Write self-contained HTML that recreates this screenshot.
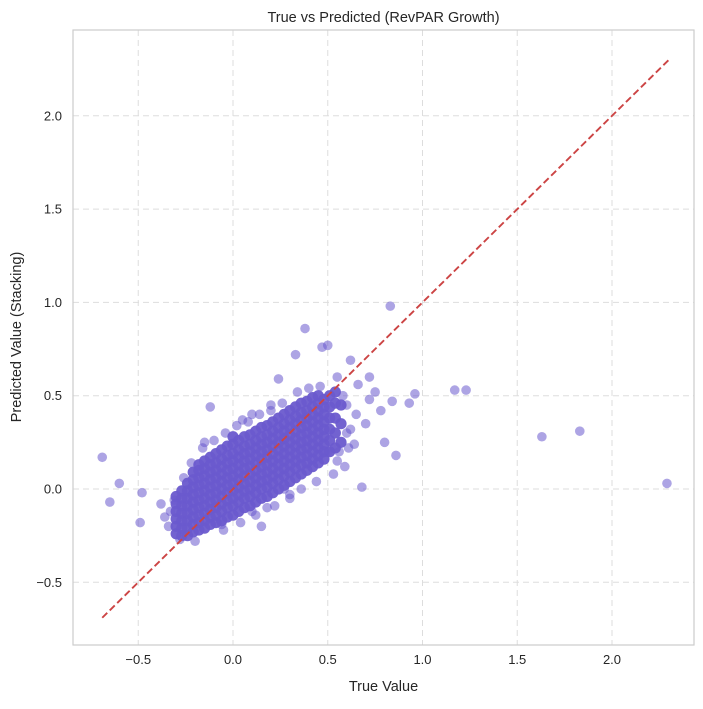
<!DOCTYPE html>
<html><head><meta charset="utf-8"><style>
body{margin:0;background:#fff;}
svg text{font-family:"Liberation Sans",sans-serif;fill:#262626;}
</style></head><body>
<svg id="chart" width="703" height="704">
<rect x="0" y="0" width="703" height="704" fill="#fff"/>
<g id="grid"></g>
<g id="pts"></g>
<g id="ref"></g>
<rect x="73" y="30" width="621" height="615" fill="none" stroke="#cccccc" stroke-width="1.2"/>
<g id="ticks"></g>
<text x="383.5" y="22" text-anchor="middle" font-size="14.5">True vs Predicted (RevPAR Growth)</text>
<text x="383.5" y="691" text-anchor="middle" font-size="14.5">True Value</text>
<text transform="translate(21,337) rotate(-90)" text-anchor="middle" font-size="14.5">Predicted Value (Stacking)</text>
</svg>
<script>
const xTicks=[-0.5,0,0.5,1,1.5,2];
const yTicks=[-0.5,0,0.5,1,1.5,2];
const colX=[-0.30,-0.27,-0.24,-0.21,-0.18,-0.15,-0.12,-0.09,-0.06,-0.03,0.00,0.03,0.06,0.09,0.12,0.15,0.18,0.21,0.24,0.27,0.30,0.33,0.36,0.39,0.42,0.45,0.48,0.51,0.54,0.57];
const colY=[
[-0.24,-0.20,-0.16,-0.12,-0.08,-0.04],
[-0.25,-0.21,-0.17,-0.13,-0.09,-0.05,-0.01],
[-0.25,-0.21,-0.17,-0.13,-0.09,-0.05,-0.01,0.03],
[-0.23,-0.19,-0.15,-0.11,-0.07,-0.03,0.01,0.05,0.09],
[-0.22,-0.18,-0.14,-0.10,-0.06,-0.02,0.02,0.06,0.10,0.13],
[-0.21,-0.17,-0.13,-0.09,-0.05,-0.01,0.03,0.07,0.11,0.15],
[-0.19,-0.15,-0.11,-0.07,-0.03,0.01,0.05,0.09,0.13,0.17],
[-0.18,-0.14,-0.10,-0.06,-0.02,0.02,0.06,0.10,0.14,0.19],
[-0.17,-0.12,-0.08,-0.04,0.00,0.04,0.08,0.12,0.16,0.21],
[-0.15,-0.10,-0.06,-0.02,0.02,0.06,0.10,0.14,0.18,0.23],
[-0.14,-0.09,-0.05,-0.01,0.03,0.07,0.11,0.15,0.19,0.24,0.28],
[-0.12,-0.07,-0.03,0.01,0.05,0.09,0.13,0.17,0.21,0.26],
[-0.10,-0.05,-0.01,0.03,0.07,0.11,0.15,0.19,0.23,0.28],
[-0.09,-0.04,0.00,0.04,0.08,0.12,0.16,0.20,0.24,0.29],
[-0.07,-0.02,0.02,0.06,0.10,0.14,0.18,0.22,0.26,0.31],
[-0.05,0.00,0.04,0.08,0.12,0.16,0.20,0.24,0.28,0.33],
[-0.04,0.01,0.05,0.09,0.13,0.17,0.21,0.25,0.29,0.34],
[-0.02,0.03,0.07,0.11,0.15,0.19,0.23,0.27,0.31,0.36],
[0.00,0.05,0.09,0.13,0.17,0.21,0.25,0.29,0.33,0.38],
[0.02,0.07,0.11,0.15,0.19,0.23,0.27,0.31,0.35,0.40],
[0.04,0.09,0.13,0.17,0.21,0.25,0.29,0.33,0.37,0.42],
[0.06,0.11,0.15,0.19,0.23,0.27,0.31,0.35,0.39,0.44],
[0.08,0.13,0.17,0.21,0.25,0.29,0.33,0.37,0.41,0.46],
[0.10,0.14,0.18,0.22,0.26,0.30,0.34,0.38,0.42,0.47],
[0.12,0.16,0.20,0.24,0.28,0.32,0.36,0.40,0.44,0.49],
[0.14,0.18,0.22,0.26,0.30,0.34,0.38,0.42,0.46,0.50],
[0.16,0.20,0.24,0.28,0.32,0.36,0.40,0.44,0.48],
[0.20,0.26,0.32,0.38,0.44,0.50],
[0.22,0.30,0.38,0.46,0.52],
[0.25,0.35,0.45]];
const outX=[-0.69,-0.65,-0.60,-0.48,-0.49,-0.38,-0.36,-0.12,0.05,0.24,0.33,0.38,0.47,0.50,0.83,0.62,0.66,0.72,0.75,0.78,0.84,0.86,0.93,0.96,1.17,1.23,1.63,1.83,2.29,0.68,0.60,0.70,0.55,0.80,-0.05,0.15,0.27,-0.20,0.60,0.65,0.72,0.10,0.20,-0.15,0.30,0.50,0.55,-0.33,-0.34,-0.31,-0.26,-0.22,-0.16,-0.10,-0.04,0.02,0.08,0.14,0.20,0.26,0.34,0.40,0.46,0.58,0.62,0.64,0.59,0.53,0.44,0.36,0.18,-0.28,-0.06,0.12,0.22,0.30,0.56,0.61,0.04,0.10];
const outY=[0.17,-0.07,0.03,-0.02,-0.18,-0.08,-0.15,0.44,0.37,0.59,0.72,0.86,0.76,0.77,0.98,0.69,0.56,0.60,0.52,0.42,0.47,0.18,0.46,0.51,0.53,0.53,0.28,0.31,0.03,0.01,0.30,0.35,0.60,0.25,-0.22,-0.20,0.00,-0.28,0.45,0.40,0.48,0.40,0.45,0.25,-0.05,0.20,0.15,-0.12,-0.20,-0.06,0.06,0.14,0.22,0.26,0.30,0.34,0.36,0.40,0.42,0.46,0.52,0.54,0.55,0.50,0.32,0.24,0.12,0.08,0.04,0.00,-0.10,-0.27,-0.19,-0.14,-0.09,-0.03,0.20,0.22,-0.18,-0.12];
const refLine=[-0.69,2.30];

const NS="http://www.w3.org/2000/svg";
const sx=v=>233+v*189.5;
const sy=v=>489-v*186.6;
function mk(tag,attrs,parent){const e=document.createElementNS(NS,tag);for(const k in attrs)e.setAttribute(k,attrs[k]);parent.appendChild(e);return e;}
const grid=document.getElementById('grid'),ticks=document.getElementById('ticks'),pts=document.getElementById('pts'),ref=document.getElementById('ref');
xTicks.forEach(v=>{
  const g=mk('line',{x1:sx(v),x2:sx(v),y1:30,y2:645,stroke:'#dddddd','stroke-dasharray':'6,4','stroke-width':1},grid);
  
  
  const t=mk('text',{x:sx(v),y:664,'text-anchor':'middle','font-size':13},ticks);
  t.textContent=(v<0?"\u2212":"")+Math.abs(v).toFixed(1);
  
  
});
yTicks.forEach(v=>{
  const g=mk('line',{x1:73,x2:694,y1:sy(v),y2:sy(v),stroke:'#dddddd','stroke-dasharray':'6,4','stroke-width':1},grid);
  
  
  const t=mk('text',{x:62,y:sy(v)+4.5,'text-anchor':'end','font-size':13},ticks);
  t.textContent=(v<0?"\u2212":"")+Math.abs(v).toFixed(1);
  
  
});
outX.forEach((x,i)=>{
  const c=mk('circle',{cx:sx(x),cy:sy(outY[i]),r:4.8,fill:'#6a5acd','fill-opacity':0.55},pts);
  
  
});
colX.forEach((x,i)=>colY[i].forEach(y=>{
  const c=mk('circle',{cx:sx(x),cy:sy(y),r:5.6,fill:'#6a5acd','fill-opacity':0.95},pts);
  
  
}));
const l=mk('line',{x1:sx(refLine[0]),y1:sy(refLine[0]),x2:sx(refLine[1]),y2:sy(refLine[1]),stroke:'#cc4444','stroke-width':1.9,'stroke-dasharray':'7,3.5'},ref);


</script>
</body></html>
